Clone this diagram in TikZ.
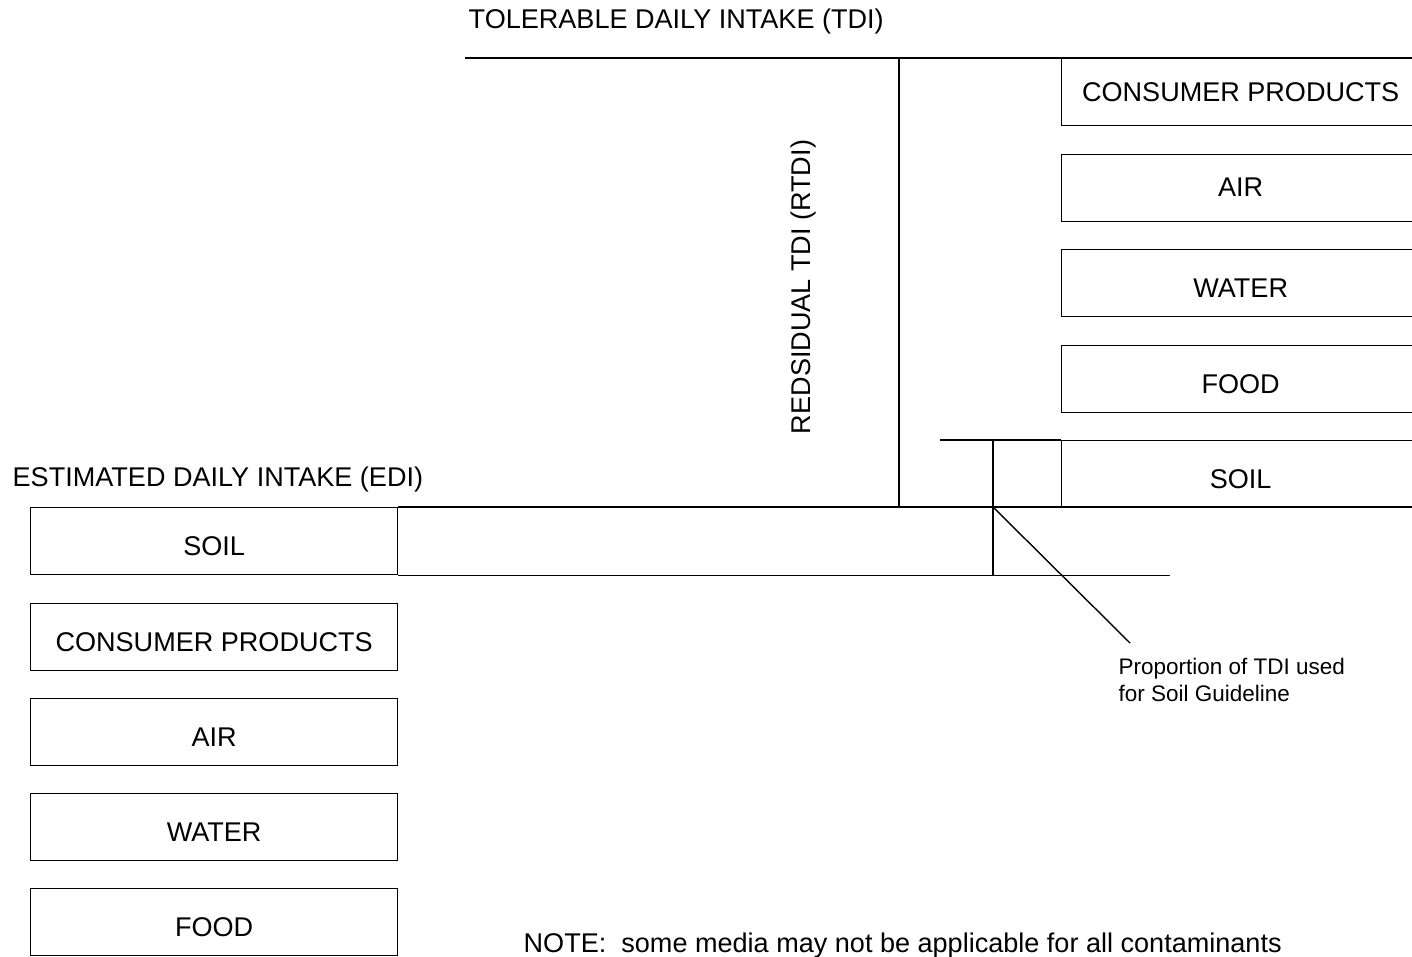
\documentclass[tikz,border=0pt]{standalone}
\usepackage{fontspec}
\setmainfont{Liberation Sans}
\begin{document}
\begin{tikzpicture}[x=0.02cm,y=-0.02cm,line width=0.8pt,
    medium/.style={draw,minimum width=7.34cm,minimum height=1.34cm,inner sep=0pt,
        text height=0.59cm,text depth=0pt,font=\fontsize{15.4}{18}\selectfont},
    rmedium/.style={medium,minimum width=7.16cm},
    lbl/.style={inner sep=0pt,font=\fontsize{15.4}{18}\selectfont}]
    \clip (0,0) rectangle (1412,956);
    %\draw[very thin,color=gray] (0,0) grid[step=100] (1412,956);
    % left column: EDI
    \node[medium,anchor=north west] (esoil) at (30,507) {SOIL};
    \node[medium,anchor=north west] (econs) at (30,603) {CONSUMER PRODUCTS};
    \node[medium,anchor=north west] (eair) at (30,698) {AIR};
    \node[medium,anchor=north west] (ewater) at (30,793) {WATER};
    \node[medium,anchor=north west] (efood) at (30,888) {FOOD};
    % right column: TDI
    \node[rmedium,anchor=north west,text height=0.39cm] (tcons) at (1061,58) {CONSUMER PRODUCTS};
    \node[rmedium,anchor=north west,text height=0.33cm] (tair) at (1061,154) {AIR};
    \node[rmedium,anchor=north west] (twater) at (1061,249) {WATER};
    \node[rmedium,anchor=north west] (tfood) at (1061,345) {FOOD};
    \node[rmedium,anchor=north west] (tsoil) at (1061,440) {SOIL};
    % labels
    \node[lbl,anchor=west] (tdi) at (468,22) {TOLERABLE DAILY INTAKE (TDI)};
    \node[lbl,anchor=west] (edi) at (12,479) {ESTIMATED DAILY INTAKE (EDI)};
    \node[lbl,rotate=90] (rtdi) at (803,287) {REDSIDUAL TDI (RTDI)};
    \node[inner sep=0pt,anchor=north west,align=left,font=\fontsize{12.8}{15.4}\selectfont] (prop) at (1118,657) {Proportion of TDI used\\for Soil Guideline};
    \node[lbl,anchor=west] (note) at (523,945) {NOTE:\ \ some media may not be applicable for all contaminants};
    % reference lines
    \coordinate (tdiend) at (465,58);
    \coordinate (rtop) at (899,58);
    \coordinate (rbot) at (899,507);
    \coordinate (ediend) at (1412,507);
    \coordinate (soiltop) at (940,440);
    \coordinate (cutA) at (993,440);
    \coordinate (cross) at (993,507);
    \coordinate (lowend) at (esoil.south east -| 1170,0);
    \coordinate (propend) at (1130,643);
    \draw (tdiend) -- (tcons.north east);
    \draw (rtop) -- (rbot);
    \draw (esoil.north east) -- (esoil.north east -| ediend);
    \draw (esoil.south east) -- (lowend);
    \draw (soiltop) -- (tsoil.north west);
    \draw (cutA) -- (cutA |- lowend);
    \draw (cross) -- (propend);
\end{tikzpicture}
\end{document}
